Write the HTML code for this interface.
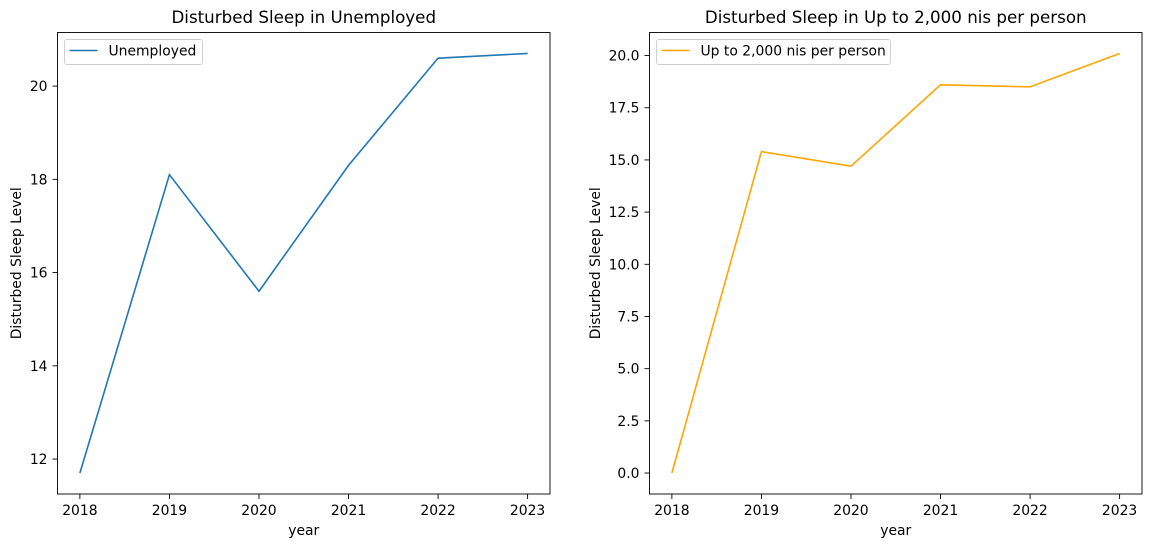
<!DOCTYPE html>
<html><head><meta charset="utf-8">
<style>
body{margin:0;background:#fff;}
svg text{font-family:"DejaVu Sans","Liberation Sans",sans-serif;fill:#000;}
</style></head>
<body>
<svg id="chart" width="1152" height="547" xmlns="http://www.w3.org/2000/svg"></svg>
<script>
const years = [2018, 2019, 2020, 2021, 2022, 2023];
const unemployedValues = [11.7, 18.1, 15.6, 18.3, 20.6, 20.7];
const incomeValues = [0, 15.4, 14.7, 18.6, 18.5, 20.1];
const leftTicks = [12, 14, 16, 18, 20];
const rightTicks = [0, 2.5, 5, 7.5, 10, 12.5, 15, 17.5, 20];
const leftTickLabels = ["12", "14", "16", "18", "20"];
const rightTickLabels = ["0.0", "2.5", "5.0", "7.5", "10.0", "12.5", "15.0", "17.5", "20.0"];

const svg = document.getElementById('chart');
const NS = 'http://www.w3.org/2000/svg';
function mk(tag, attrs, parent) {
  const e = document.createElementNS(NS, tag);
  for (const k in attrs) e.setAttribute(k, attrs[k]);
  (parent || svg).appendChild(e);
  return e;
}

function panel(cfg) {
  const g = mk('g', {});
  
  
  const L = cfg.left, R = cfg.right, T = 32.5, B = 494;
  const x0 = Math.min(...years) - 0.25, x1 = Math.max(...years) + 0.25;
  const vmin = Math.min(...cfg.values), vmax = Math.max(...cfg.values);
  const pad = (vmax - vmin) * 0.05;
  const y0 = vmin - pad, y1 = vmax + pad;
  const sx = v => L + (v - x0) / (x1 - x0) * (R - L);
  const sy = v => B - (v - y0) / (y1 - y0) * (B - T);

  const pts = years.map((yr, i) => sx(yr).toFixed(2) + ',' + sy(cfg.values[i]).toFixed(2)).join(' ');
  const line = mk('polyline', {points: pts, fill: 'none', stroke: cfg.color, 'stroke-width': 1.6}, g);
  
  

  const frame = mk('rect', {x: L, y: T, width: R - L, height: B - T, fill: 'none', stroke: '#000', 'stroke-width': 0.9}, g);
  
  

  years.forEach(yr => {
    const x = sx(yr);
    mk('line', {x1: x, x2: x, y1: B, y2: B + 5, stroke: '#000', 'stroke-width': 0.9}, g);
    const t = mk('text', {x: x, y: 515, 'font-size': 13.9, 'text-anchor': 'middle'}, g);
    t.textContent = yr;
    
    
  });
  cfg.ticks.forEach((v, i) => {
    const y = sy(v);
    mk('line', {x1: L - 5, x2: L, y1: y, y2: y, stroke: '#000', 'stroke-width': 0.9}, g);
    const t = mk('text', {x: L - 10, y: y + 5, 'font-size': 13.9, 'text-anchor': 'end'}, g);
    t.textContent = cfg.tickLabels[i];
    
    
  });
  const title = mk('text', {x: (L + R) / 2, y: 23, 'font-size': 16.7, 'text-anchor': 'middle'}, g);
  title.textContent = cfg.title;
  
  
  const xt = mk('text', {x: (L + R) / 2, y: 535, 'font-size': 13.9, 'text-anchor': 'middle'}, g);
  xt.textContent = 'year';
  
  
  const yx = cfg.ylabelX, yy = (T + B) / 2;
  const yt = mk('text', {x: yx, y: yy, 'font-size': 13.9, 'text-anchor': 'middle', transform: 'rotate(-90 ' + yx + ' ' + yy + ')'}, g);
  yt.textContent = 'Disturbed Sleep Level';
  
  

  const lg = mk('g', {}, g);
  
  
  mk('rect', {x: L + 7, y: 39.5, width: cfg.legendW, height: 25, rx: 2.5, fill: '#fff', stroke: '#ccc', 'stroke-width': 0.9}, lg);
  mk('line', {x1: L + 12, x2: L + 40, y1: 50.5, y2: 50.5, stroke: cfg.color, 'stroke-width': 1.6}, lg);
  const lt = mk('text', {x: L + 51, y: 55.5, 'font-size': 13.9}, lg);
  lt.textContent = cfg.label;
}

panel({name: 'unemployed-panel', left: 57.5, right: 550, values: unemployedValues, ticks: leftTicks, tickLabels: leftTickLabels,
  color: '#1f77b4', title: 'Disturbed Sleep in Unemployed', label: 'Unemployed', legendW: 138, ylabelX: 21});
panel({name: 'income-panel', left: 649.5, right: 1142, values: incomeValues, ticks: rightTicks, tickLabels: rightTickLabels,
  color: '#ffa500', title: 'Disturbed Sleep in Up to 2,000 nis per person', label: 'Up to 2,000 nis per person', legendW: 234, ylabelX: 600});
</script>
</body></html>
